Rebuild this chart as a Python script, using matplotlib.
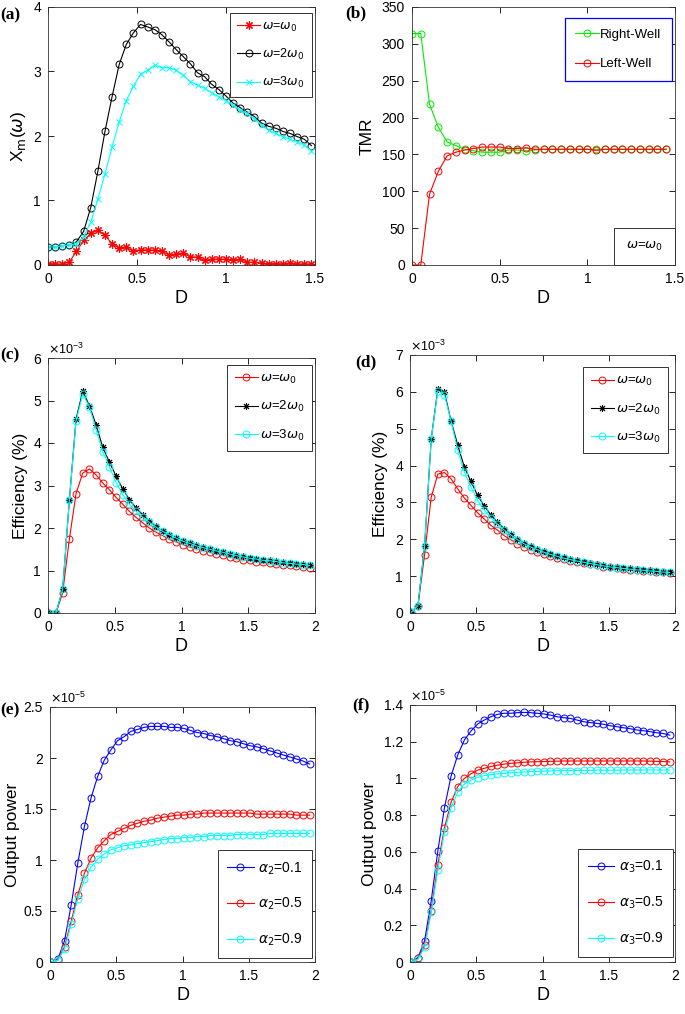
import numpy as np
import matplotlib
matplotlib.use("Agg")
import matplotlib.pyplot as plt
from matplotlib.ticker import ScalarFormatter
from matplotlib.offsetbox import AnchoredText

plt.rcParams['font.family'] = ['Liberation Sans', 'DejaVu Sans']
plt.rcParams['mathtext.fontset'] = 'dejavusans'

# ---------------- data ----------------
D_a = np.round(np.arange(38) * 0.04, 2)
a_w1 = [0.02,0.02,0.01,0.05,0.21,0.38,0.49,0.54,0.46,0.33,0.26,0.28,0.21,0.24,0.23,0.23,0.22,0.15,0.17,0.18,
        0.13,0.12,0.07,0.09,0.09,0.09,0.08,0.09,0.04,0.04,0.03,0.02,0.02,0.02,0.03,0.01,0.02,0.01]
a_w2 = [0.28,0.28,0.30,0.31,0.36,0.52,0.89,1.45,2.07,2.61,3.11,3.42,3.60,3.73,3.69,3.65,3.57,3.46,3.34,3.23,
        3.12,2.98,2.92,2.80,2.72,2.62,2.51,2.44,2.37,2.30,2.20,2.15,2.12,2.07,2.04,1.99,1.95,1.85]
a_w3 = [0.28,0.28,0.30,0.31,0.33,0.44,0.66,1.02,1.41,1.83,2.22,2.55,2.77,2.96,3.02,3.10,3.06,3.06,3.02,2.94,
        2.84,2.79,2.74,2.67,2.61,2.55,2.48,2.40,2.35,2.27,2.17,2.09,2.04,1.99,1.95,1.91,1.86,1.77]

D_b = np.round(np.arange(30) * 0.05, 2)
b_right = [314,314,218,187,167,162,157,155,153,153,153,156,156,155,156,157,157,157,157,157,
           157,157,157,157,157,157,157,157,157,157]
b_left = [0,0,96,127,148,153,156,158,160,160,160,158,158,159,157,157,157,157,157,157,
          157,155.5,157,157,157,157,157,157,157,157]

D_c = np.round(0.01 + np.arange(40) * 0.05, 2)
c_w1 = [0,0,0.48,1.74,2.81,3.29,3.39,3.25,3.06,2.90,2.72,2.56,2.39,2.25,2.12,2.00,1.90,1.82,1.73,1.67,
        1.61,1.55,1.51,1.47,1.43,1.39,1.36,1.32,1.29,1.25,1.24,1.21,1.19,1.18,1.15,1.14,1.12,1.11,1.09,1.07]
c_w2 = [0,0,0.56,2.65,4.56,5.22,4.88,4.43,3.90,3.55,3.22,2.92,2.67,2.47,2.31,2.16,2.04,1.92,1.84,1.76,
        1.70,1.65,1.59,1.55,1.51,1.47,1.44,1.40,1.36,1.33,1.30,1.28,1.25,1.24,1.22,1.19,1.18,1.16,1.15,1.13]
c_w3 = [0,0,0.56,2.65,4.52,5.15,4.85,4.31,3.80,3.44,3.07,2.78,2.56,2.39,2.25,2.13,2.02,1.92,1.84,1.76,
        1.69,1.64,1.58,1.54,1.50,1.46,1.43,1.39,1.35,1.32,1.29,1.27,1.24,1.23,1.21,1.18,1.17,1.15,1.14,1.12]

d_w1 = [0.02,0.20,1.58,3.14,3.77,3.81,3.64,3.37,3.12,2.92,2.72,2.55,2.38,2.25,2.10,1.99,1.88,1.80,1.72,1.66,
        1.60,1.55,1.50,1.46,1.42,1.38,1.35,1.32,1.29,1.26,1.24,1.22,1.20,1.18,1.16,1.14,1.13,1.11,1.10,1.08]
d_w2 = [0.02,0.20,1.81,4.72,6.08,5.99,5.21,4.56,3.96,3.57,3.19,2.91,2.66,2.46,2.29,2.14,2.01,1.90,1.81,1.74,
        1.67,1.61,1.55,1.51,1.46,1.43,1.39,1.36,1.32,1.29,1.26,1.25,1.23,1.21,1.19,1.17,1.16,1.14,1.12,1.11]
d_w3 = [0.02,0.20,1.81,4.72,6.03,5.92,5.20,4.42,3.82,3.42,3.05,2.80,2.58,2.41,2.25,2.12,1.99,1.88,1.79,1.72,
        1.65,1.59,1.54,1.49,1.45,1.41,1.38,1.34,1.31,1.28,1.25,1.23,1.21,1.19,1.17,1.16,1.14,1.13,1.11,1.10]

e_a01 = [0,0.03,0.21,0.56,0.97,1.33,1.61,1.82,1.98,2.08,2.17,2.21,2.26,2.28,2.30,2.31,2.31,2.31,2.30,2.30,
         2.29,2.27,2.25,2.24,2.22,2.21,2.19,2.17,2.16,2.14,2.12,2.11,2.09,2.07,2.05,2.03,2.01,1.99,1.97,1.94]
e_a05 = [0,0.02,0.15,0.40,0.66,0.87,1.02,1.12,1.19,1.25,1.28,1.31,1.34,1.36,1.38,1.39,1.41,1.42,1.43,1.44,
         1.44,1.45,1.45,1.46,1.46,1.46,1.46,1.46,1.46,1.46,1.46,1.45,1.45,1.45,1.45,1.45,1.45,1.44,1.44,1.44]
e_a09 = [0,0.02,0.13,0.37,0.62,0.81,0.93,1.01,1.06,1.10,1.12,1.14,1.15,1.16,1.17,1.18,1.19,1.20,1.21,1.21,
         1.22,1.22,1.23,1.23,1.24,1.24,1.24,1.24,1.25,1.25,1.25,1.25,1.25,1.26,1.26,1.26,1.26,1.26,1.26,1.26]

f_a01 = [0,0.024,0.115,0.333,0.604,0.84,1.013,1.127,1.209,1.258,1.296,1.318,1.336,1.349,1.355,1.355,1.358,1.36,1.358,1.355,
         1.351,1.345,1.336,1.331,1.327,1.318,1.309,1.304,1.30,1.295,1.287,1.282,1.276,1.271,1.264,1.26,1.255,1.249,1.245,1.236]
f_a05 = [0,0.02,0.09,0.28,0.53,0.73,0.87,0.955,1.0,1.025,1.045,1.055,1.065,1.072,1.078,1.082,1.085,1.088,1.09,1.091,
         1.092,1.093,1.094,1.095,1.095,1.095,1.095,1.095,1.095,1.095,1.095,1.095,1.095,1.095,1.095,1.095,1.094,1.093,1.092,1.09]
f_a09 = [0,0.015,0.08,0.27,0.50,0.71,0.84,0.925,0.97,0.99,1.005,1.015,1.02,1.025,1.028,1.03,1.033,1.035,1.037,1.038,
         1.04,1.041,1.042,1.042,1.043,1.043,1.044,1.044,1.045,1.045,1.045,1.045,1.046,1.046,1.046,1.046,1.046,1.046,1.046,1.046]

lab_w = [r'$\omega$=$\omega_0$', r'$\omega$=2$\omega_0$', r'$\omega$=3$\omega_0$']
lab_e = [r'$\alpha_2$=0.1', r'$\alpha_2$=0.5', r'$\alpha_2$=0.9']
lab_f = [r'$\alpha_3$=0.1', r'$\alpha_3$=0.5', r'$\alpha_3$=0.9']

RED, BLK, CYN, GRN, BLU = '#FF0000', '#000000', '#00FFFF', '#00EE00', '#0000FF'
AST = (8, 2, 0)  # MATLAB-like asterisk marker


class GFormatter(ScalarFormatter):
    def _set_format(self):
        self.format = '%g'


# ---------------- figure ----------------
W, H = 685, 1014
fig = plt.figure(figsize=(W / 100, H / 100), dpi=100)

def add_ax(x0, y0, x1, y1):
    return fig.add_axes([x0 / W, 1 - y1 / H, (x1 - x0) / W, (y1 - y0) / H])

def style(ax, xlim, ylim, xticks, yticks, ylabel, sci=None, ylpad=6):
    ax.set_xlim(*xlim)
    ax.set_ylim(*ylim)
    ax.set_xticks(xticks)
    ax.set_yticks(yticks)
    ax.tick_params(direction='in', top=True, right=True, length=4, width=0.6,
                   labelsize=10, pad=5)
    for s in ax.spines.values():
        s.set_linewidth(0.6)
        s.set_color('#333333')
    ax.set_xlabel('D', fontsize=13, labelpad=3)
    ax.set_ylabel(ylabel, fontsize=12.5, labelpad=ylpad)
    if sci is not None:
        fmt = GFormatter(useMathText=True)
        fmt.set_powerlimits((sci, sci))
        ax.yaxis.set_major_formatter(fmt)
        ax.yaxis.get_offset_text().set_fontsize(9)
    else:
        ax.yaxis.set_major_formatter(GFormatter())
    ax.set_xticklabels([f'{t:g}' for t in xticks])

def panel_label(txt, x, y):
    fig.text(x / W, 1 - y / H, txt, fontsize=12.5, fontweight='bold',
             family='Liberation Serif', ha='left', va='center')

def frame(leg, color='#333333', lwid=0.7):
    leg.get_frame().set_edgecolor(color)
    leg.get_frame().set_linewidth(lwid)

lw, ms, mew = 0.8, 5, 0.7

# (a)
ax = add_ax(48, 7, 315, 265)
ax.plot(D_a, a_w1, color=RED, marker=AST, ms=6, lw=lw, mew=0.8, label=lab_w[0])
ax.plot(D_a, a_w2, color=BLK, marker='o', ms=ms, mfc='none', lw=lw, mew=mew, label=lab_w[1])
ax.plot(D_a, a_w3, color=CYN, marker='x', ms=ms, lw=lw, mew=mew, label=lab_w[2])
style(ax, (0, 1.5), (0, 4), [0, 0.5, 1, 1.5], [0, 1, 2, 3, 4], r'X$_\mathrm{m}$($\omega$)', ylpad=4)
leg = ax.legend(loc='upper right', bbox_to_anchor=(0.989, 0.977), fontsize=9, labelspacing=1.05,
                handlelength=1.8, handletextpad=0.2, borderpad=0.6, fancybox=False, framealpha=1,
                borderaxespad=0)
frame(leg)
panel_label('(a)', 0, 15)

# (b)
ax = add_ax(412, 7, 675, 265)
ax.plot(D_b, b_right, color=GRN, marker='o', ms=ms, mfc='none', lw=lw, mew=mew, label='Right-Well')
ax.plot(D_b, b_left, color=RED, marker='o', ms=ms, mfc='none', lw=lw, mew=mew, label='Left-Well')
style(ax, (0, 1.5), (0, 350), [0, 0.5, 1, 1.5], list(range(0, 351, 50)), 'TMR', ylpad=5)
leg = ax.legend(loc='upper right', bbox_to_anchor=(0.989, 0.957), fontsize=9.5, labelspacing=1.3,
                handlelength=1.8, handletextpad=0.1, borderpad=0.8, fancybox=False, framealpha=1,
                borderaxespad=0)
frame(leg, BLU, 0.9)
at = AnchoredText(r'$\omega$=$\omega_0$', loc='lower right', prop=dict(size=9.5), frameon=True,
                  borderpad=0.0, pad=0.9)
at.patch.set_edgecolor('#333333'); at.patch.set_linewidth(0.7); at.patch.set_boxstyle('square,pad=0')
ax.add_artist(at)
panel_label('(b)', 345, 13)

# (c)
ax = add_ax(48, 358, 315, 613)
ax.plot(D_c, np.array(c_w1) * 1e-3, color=RED, marker='o', ms=ms, mfc='none', lw=lw, mew=mew, label=lab_w[0])
ax.plot(D_c, np.array(c_w2) * 1e-3, color=BLK, marker=AST, ms=ms, lw=lw, mew=mew, label=lab_w[1])
ax.plot(D_c, np.array(c_w3) * 1e-3, color=CYN, marker='o', ms=ms, mfc='none', lw=lw, mew=mew, label=lab_w[2])
style(ax, (0, 2), (0, 6e-3), [0, 0.5, 1, 1.5, 2], [i * 1e-3 for i in range(7)], 'Efficiency (%)', sci=-3, ylpad=4)
leg = ax.legend(loc='upper right', bbox_to_anchor=(0.989, 0.973), fontsize=9.5, labelspacing=1.0,
                handlelength=1.8, handletextpad=0.1, borderpad=0.6, fancybox=False, framealpha=1,
                borderaxespad=0)
frame(leg)
panel_label('(c)', 0, 355)

# (d)
ax = add_ax(410, 355, 675, 613)
ax.plot(D_c, np.array(d_w1) * 1e-3, color=RED, marker='o', ms=ms, mfc='none', lw=lw, mew=mew, label=lab_w[0])
ax.plot(D_c, np.array(d_w2) * 1e-3, color=BLK, marker=AST, ms=ms, lw=lw, mew=mew, label=lab_w[1])
ax.plot(D_c, np.array(d_w3) * 1e-3, color=CYN, marker='o', ms=ms, mfc='none', lw=lw, mew=mew, label=lab_w[2])
style(ax, (0, 2), (0, 7e-3), [0, 0.5, 1, 1.5, 2], [i * 1e-3 for i in range(8)], 'Efficiency (%)', sci=-3, ylpad=5)
leg = ax.legend(loc='upper right', bbox_to_anchor=(0.974, 0.953), fontsize=9.5, labelspacing=1.0,
                handlelength=1.8, handletextpad=0.1, borderpad=0.6, fancybox=False, framealpha=1,
                borderaxespad=0)
frame(leg)
panel_label('(d)', 355, 362)

# (e)
ax = add_ax(50, 707, 315, 962)
ax.plot(D_c, np.array(e_a01) * 1e-5, color=BLU, marker='o', ms=ms, mfc='none', lw=lw, mew=mew, label=lab_e[0])
ax.plot(D_c, np.array(e_a05) * 1e-5, color=RED, marker='o', ms=ms, mfc='none', lw=lw, mew=mew, label=lab_e[1])
ax.plot(D_c, np.array(e_a09) * 1e-5, color=CYN, marker='o', ms=ms, mfc='none', lw=lw, mew=mew, label=lab_e[2])
style(ax, (0, 2), (0, 2.5e-5), [0, 0.5, 1, 1.5, 2], [i * 0.5e-5 for i in range(6)], 'Output power', sci=-5, ylpad=3)
leg = ax.legend(loc='lower right', bbox_to_anchor=(0.989, 0.016), fontsize=10, labelspacing=1.4,
                handlelength=1.9, handletextpad=0.3, borderpad=0.7, fancybox=False, framealpha=1,
                borderaxespad=0)
frame(leg)
panel_label('(e)', 0, 710)

# (f)
ax = add_ax(410, 705, 675, 962)
ax.plot(D_c, np.array(f_a01) * 1e-5, color=BLU, marker='o', ms=ms, mfc='none', lw=lw, mew=mew, label=lab_f[0])
ax.plot(D_c, np.array(f_a05) * 1e-5, color=RED, marker='o', ms=ms, mfc='none', lw=lw, mew=mew, label=lab_f[1])
ax.plot(D_c, np.array(f_a09) * 1e-5, color=CYN, marker='o', ms=ms, mfc='none', lw=lw, mew=mew, label=lab_f[2])
style(ax, (0, 2), (0, 1.4e-5), [0, 0.5, 1, 1.5, 2], [i * 0.2e-5 for i in range(8)], 'Output power', sci=-5, ylpad=5)
leg = ax.legend(loc='lower right', bbox_to_anchor=(0.992, 0.02), fontsize=10, labelspacing=1.4,
                handlelength=1.9, handletextpad=0.3, borderpad=0.7, fancybox=False, framealpha=1,
                borderaxespad=0)
frame(leg)
panel_label('(f)', 352, 705)

fig.savefig('out.png', dpi=100)
